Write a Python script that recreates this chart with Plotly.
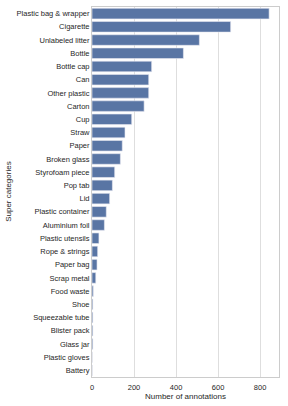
import plotly.graph_objects as go

categories = ["Plastic bag & wrapper", "Cigarette", "Unlabeled litter", "Bottle", "Bottle cap",
              "Can", "Other plastic", "Carton", "Cup", "Straw", "Paper", "Broken glass",
              "Styrofoam piece", "Pop tab", "Lid", "Plastic container", "Aluminium foil",
              "Plastic utensils", "Rope & strings", "Paper bag", "Scrap metal", "Food waste",
              "Shoe", "Squeezable tube", "Blister pack", "Glass jar", "Plastic gloves", "Battery"]
counts = [843, 660, 511, 435, 284, 270, 270, 248, 189, 157, 144, 135, 108, 97, 84, 68, 59,
          33, 27, 24, 18, 6, 4, 4, 4, 4, 1, 1]
x_ticks = [0, 200, 400, 600, 800]
x_title = "Number of annotations"
y_title = "Super categories"

fig = go.Figure(go.Bar(
    x=counts, y=categories, orientation="h",
    marker=dict(color="#5975A4", line=dict(color="#eaeaf2", width=0.6)),
    width=0.8,
))

axis_font = dict(family="Liberation Sans, Arial, sans-serif", size=7.5, color="#262626")
title_font = dict(family="Liberation Sans, Arial, sans-serif", size=8, color="#262626")
fig.update_layout(
    width=288, height=406,
    margin=dict(l=92, r=9, t=7, b=29),
    paper_bgcolor="white", plot_bgcolor="white",
    font=axis_font,
    showlegend=False,
    xaxis=dict(
        range=[0, 890], tickvals=x_ticks, ticktext=[str(v) for v in x_ticks],
        showgrid=True, gridcolor="#dedede", gridwidth=1,
        showline=True, linecolor="#cccccc", linewidth=1, mirror=True,
        zeroline=False, ticks="", tickfont=axis_font, automargin=False,
        ticklabelstandoff=3,
    ),
    yaxis=dict(
        categoryorder="array", categoryarray=categories, autorange="reversed",
        showgrid=False, showline=True, linecolor="#cccccc", linewidth=1, mirror=True,
        ticks="", tickfont=axis_font, automargin=False,
    ),
    annotations=[
        dict(text=x_title, xref="paper", yref="paper", x=0.5, y=-0.053,
             xanchor="center", yanchor="middle", showarrow=False, font=title_font),
        dict(text=y_title, xref="paper", x=-0.45, xanchor="center",
             yref="paper", y=0.5, yanchor="middle", textangle=-90,
             showarrow=False, font=title_font),
    ],
)

fig.write_html("out.html", config={"displayModeBar": False},
               post_script="document.body.style.margin='0';document.body.style.overflow='hidden';")
